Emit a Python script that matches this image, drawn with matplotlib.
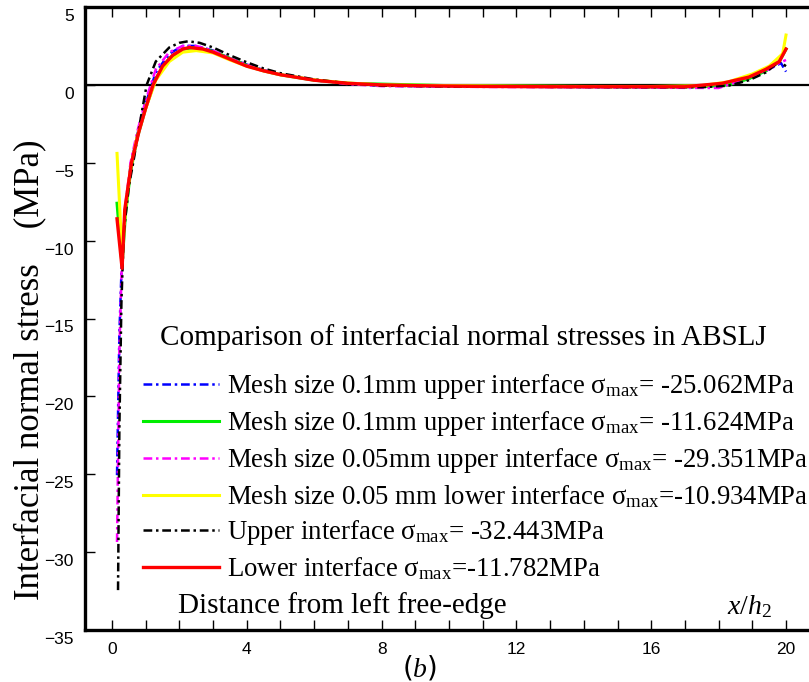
import numpy as np
from matplotlib import pyplot as plt
import matplotlib.transforms as mtransforms

plt.rcParams['mathtext.fontset'] = 'custom'
plt.rcParams['mathtext.rm'] = 'Liberation Serif'
plt.rcParams['mathtext.it'] = 'Liberation Serif:italic'

# Interfacial normal stress (MPa) vs distance x/h2
x_blue = [0.15, 0.22, 0.3, 0.4, 0.55, 0.75, 1.0, 1.3, 1.7, 2.1, 2.5, 3.0, 3.5, 4.0, 4.5, 5.0, 6.0, 7.0, 8.0,
          10, 12, 14, 16, 17.5, 18.3, 18.9, 19.4, 19.85, 20.0]
y_blue = [-25.06, -16.0, -10.8, -7.8, -5.2, -3.2, -1.2, 0.8, 2.0, 2.5, 2.5, 2.2, 1.7, 1.3, 0.95, 0.65, 0.3, 0.08, -0.05,
          -0.1, -0.12, -0.14, -0.15, -0.12, 0.05, 0.4, 0.9, 1.4, 0.85]

x_green = [0.15, 0.3, 0.4, 0.55, 0.75, 1.0, 1.3, 1.7, 2.1, 2.5, 3.0, 3.5, 4.0, 4.5, 5.0, 6.0, 7.0, 8.0,
           10, 12, 14, 16, 17.5, 18.3, 18.9, 19.4, 19.8, 20.0]
y_green = [-7.6, -11.6, -8.3, -5.6, -3.4, -1.5, 0.4, 1.7, 2.3, 2.4, 2.15, 1.7, 1.25, 0.9, 0.65, 0.3, 0.1, 0.05,
           -0.05, -0.08, -0.1, -0.12, -0.12, 0.0, 0.4, 0.9, 1.5, 2.3]

x_magenta = [0.15, 0.22, 0.3, 0.4, 0.55, 0.75, 1.0, 1.3, 1.7, 2.1, 2.5, 3.0, 3.5, 4.0, 4.5, 5.0, 6.0, 7.0, 8.0,
             10, 12, 14, 16, 18.0, 18.5, 19.0, 19.5, 19.8, 20.0]
y_magenta = [-29.35, -17.0, -10.9, -7.7, -5.0, -3.0, -1.0, 1.0, 2.1, 2.5, 2.5, 2.2, 1.7, 1.3, 0.95, 0.65, 0.3, 0.05, -0.08,
             -0.12, -0.14, -0.15, -0.18, -0.2, 0.15, 0.6, 1.0, 1.4, 1.6]

x_yellow = [0.15, 0.3, 0.4, 0.55, 0.75, 1.0, 1.3, 1.7, 2.1, 2.5, 3.0, 3.5, 4.0, 4.5, 5.0, 6.0, 7.0, 8.0,
            10, 12, 14, 16, 17.5, 18.3, 19.0, 19.5, 19.9, 20.0]
y_yellow = [-4.4, -10.9, -8.0, -5.4, -3.3, -1.5, 0.3, 1.5, 2.1, 2.2, 2.05, 1.6, 1.2, 0.9, 0.65, 0.32, 0.12, 0.0,
            -0.05, -0.08, -0.1, -0.1, -0.05, 0.2, 0.7, 1.2, 2.0, 3.2]

x_black = [0.18, 0.22, 0.28, 0.35, 0.5, 0.63, 0.8, 1.03, 1.3, 1.7, 2.0, 2.26, 2.6, 3.0, 3.5, 4.0, 4.5, 5.0, 6.0, 7.0,
           8.0, 10, 12, 14, 16, 17.5, 18.3, 18.9, 19.4, 19.8, 20.0]
y_black = [-32.44, -22.0, -14.0, -9.5, -6.5, -5.0, -2.8, 0.0, 1.5, 2.4, 2.7, 2.8, 2.7, 2.4, 1.9, 1.45, 1.05, 0.75, 0.35, 0.1,
           -0.05, -0.1, -0.12, -0.14, -0.15, -0.15, -0.05, 0.3, 0.8, 1.5, 1.2]

x_red = [0.15, 0.3, 0.38, 0.58, 0.8, 1.0, 1.22, 1.5, 1.8, 2.1, 2.3, 2.7, 3.0, 3.5, 4.0, 4.5, 5.0, 6.0, 7.0, 8.0, 9,
         11, 13, 15, 17, 18.1, 18.9, 19.4, 19.8, 20.0]
y_red = [-8.6, -11.78, -8.0, -5.0, -3.0, -1.5, 0.0, 1.2, 1.9, 2.3, 2.4, 2.3, 2.1, 1.65, 1.2, 0.9, 0.65, 0.3, 0.1, 0.0, -0.05,
         -0.1, -0.12, -0.12, -0.12, 0.1, 0.5, 1.0, 1.5, 2.3]

labels = [
    'Mesh size 0.1mm upper interface σ$_{\\mathrm{max}}$= -25.062MPa',
    'Mesh size 0.1mm upper interface σ$_{\\mathrm{max}}$= -11.624MPa',
    'Mesh size 0.05mm upper interface σ$_{\\mathrm{max}}$= -29.351MPa',
    'Mesh size 0.05 mm lower interface σ$_{\\mathrm{max}}$=-10.934MPa',
    'Upper interface σ$_{\\mathrm{max}}$= -32.443MPa',
    'Lower interface σ$_{\\mathrm{max}}$=-11.782MPa',
]

fig = plt.figure(figsize=(8.09, 6.82), dpi=100)
W, H = 809, 682
ax = fig.add_axes([85 / W, 1 - 630 / H, 730 / W, 623 / H])

dashdot = (0, (3.5, 1.5, 1, 1.5))
ax.plot(x_blue, y_blue, color='#0000ff', lw=1.8, ls=dashdot, label=labels[0])
ax.plot(x_green, y_green, color='#00ee00', lw=2.2, label=labels[1])
ax.plot(x_magenta, y_magenta, color='#ff00ff', lw=1.8, ls=dashdot, label=labels[2])
ax.plot(x_yellow, y_yellow, color='#ffff00', lw=2.2, label=labels[3])
ax.plot(x_black, y_black, color='black', lw=1.8, ls=dashdot, label=labels[4])
ax.plot(x_red, y_red, color='#ff0000', lw=2.4, label=labels[5])

ax.axhline(0, color='black', lw=1.6, zorder=1)

ax.set_xlim(-0.8, 20.86)
ax.set_ylim(-35, 5)

for side in ['left', 'bottom', 'top']:
    ax.spines[side].set_linewidth(2.4)
ax.spines['right'].set_visible(False)

ax.set_xticks([0, 4, 8, 12, 16, 20])
ax.set_xticks(np.arange(0, 21, 1), minor=True)
ax.set_yticks(np.arange(-35, 6, 5))
ax.tick_params(axis='both', which='both', direction='in', length=7, width=1, top=True,
               labelsize=12.5, labelfontfamily='Liberation Sans')
ax.tick_params(axis='x', which='both', pad=9)
ax.tick_params(axis='y', pad=8)
offset = mtransforms.ScaledTranslation(0, -8 / 100, fig.dpi_scale_trans)
for lab in ax.get_yticklabels():
    lab.set_transform(lab.get_transform() + offset)

serif = 'Liberation Serif'
fig.text(30 / W, 1 - 370 / H, 'Interfacial normal stress    (MPa)', rotation=90, ha='center', va='center',
         fontsize=25, family=serif)
fig.text(160 / W, 1 - 338 / H, 'Comparison of interfacial normal stresses in ABSLJ', ha='left', va='center',
         fontsize=21, family=serif)
fig.text(178 / W, 1 - 606 / H, 'Distance from left free-edge', ha='left', va='center', fontsize=21, family=serif)
fig.text(727 / W, 1 - 606 / H, '$x/h_2$', ha='left', va='center', fontsize=20)
fig.text(420 / W, 1 - 668 / H, '($b$)', ha='center', va='center', fontsize=20)

leg = ax.legend(loc='upper left', bbox_to_anchor=(143 / W, 1 - 372 / H), bbox_transform=fig.transFigure,
                frameon=False, borderpad=0, borderaxespad=0, handlelength=2.85, handletextpad=0.3,
                labelspacing=0.3, prop={'family': serif, 'size': 19.3})

fig.savefig('out.png', dpi=100)
